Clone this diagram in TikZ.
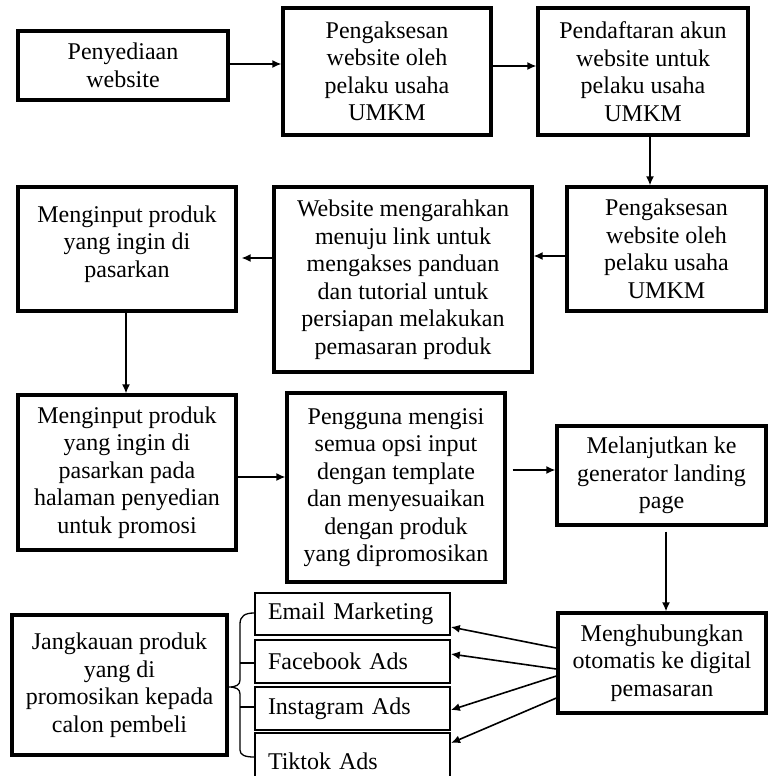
\documentclass[tikz,border=0pt]{standalone}
\usepackage{fontspec}
\setmainfont{Liberation Serif}
\usetikzlibrary{arrows.meta}
\tikzset{
  box/.style={draw, line width=3.2pt, align=center, inner sep=2pt,
    font=\fontsize{24}{27.5}\selectfont},
  smallbox/.style={draw, line width=1.7pt, align=left, inner xsep=13pt, inner ysep=2pt,
    text width=169pt, minimum width=195pt, font=\fontsize{24}{27.5}\selectfont},
  arr/.style={-{Latex[length=9pt,width=8pt]}, line width=1.6pt},
  bracel/.style={line width=1.3pt}
}
\begin{document}
\begin{tikzpicture}[x=1pt,y=-1pt]
\useasboundingbox (0,0) rectangle (768,776);
\clip (0,0) rectangle (768,776);
% row 1
\node[box, minimum width=210pt, minimum height=69pt] (B1) at (123,65.5) {Penyediaan\\website};
\node[box, minimum width=208pt, minimum height=127pt] (B2) at (387,71.5) {Pengaksesan\\website oleh\\pelaku usaha\\UMKM};
\node[box, minimum width=210pt, minimum height=127pt] (B3) at (643,71.5) {Pendaftaran akun\\website untuk\\pelaku usaha\\UMKM};
% row 2
\node[box, minimum width=199pt, minimum height=124pt] (B4) at (666.5,249) {Pengaksesan\\website oleh\\pelaku usaha\\UMKM};
\node[box, minimum width=258pt, minimum height=185pt] (B5) at (403,279.5) {Website mengarahkan\\menuju link untuk\\mengakses panduan\\dan tutorial untuk\\persiapan melakukan\\pemasaran produk};
\node[box, minimum width=218pt, minimum height=124pt] (B6) at (127,249) {Menginput produk\\yang ingin di\\pasarkan\\[-12pt]\mbox{}};
% row 3
\node[box, minimum width=218pt, minimum height=155pt] (B7) at (127,472.5) {Menginput produk\\yang ingin di\\pasarkan pada\\halaman penyedian\\untuk promosi};
\node[box, minimum width=218pt, minimum height=189pt] (B8) at (396,487.5) {Pengguna mengisi\\semua opsi input\\dengan template\\dan menyesuaikan\\dengan produk\\yang dipromosikan};
\node[box, minimum width=209pt, minimum height=99pt] (B9) at (661.5,475.5) {Melanjutkan ke\\generator landing\\page};
% row 4
\node[box, minimum width=208pt, minimum height=100pt] (B10) at (662,663) {Menghubungkan\\otomatis ke digital\\pemasaran};
\node[box, minimum width=215pt, minimum height=140pt] (B11) at (119.5,685) {Jangkauan produk\\yang di\\promosikan kepada\\calon pembeli};
\node[smallbox, minimum height=42pt] (E) at (352.5,614) {Email Marketing};
\node[smallbox, minimum height=43pt] (F) at (352.5,661.5) {Facebook Ads};
\node[smallbox, minimum height=43pt] (I) at (352.5,708.5) {Instagram Ads};
\node[smallbox, minimum height=57pt, line width=2.2pt] (T) at (352.5,761.5) {Tiktok Ads};
% connectors
\draw[arr] (B1.east |- 0,64) -- (B2.west |- 0,64);
\draw[arr] (B2.east |- 0,66) -- (B3.west |- 0,66);
\draw[arr] (B3.south -| 650,0) -- (B4.north -| 650,0);
\draw[arr] (B4.west |- 0,256) -- (B5.east |- 0,256);
\draw[arr, shorten >=4pt] (B5.west |- 0,258) -- (B6.east |- 0,258);
\draw[arr] (B6.south -| 126,0) -- (B7.north -| 126,0);
\draw[arr] (B7.east |- 0,477) -- (B8.west |- 0,477);
\draw[arr, shorten <=6pt] (B8.east |- 0,470) -- (B9.west |- 0,470);
\draw[arr, shorten <=5pt] (B9.south -| 666,0) -- (B10.north -| 666,0);
\draw[arr] (B10.west |- 0,648) -- (E.east |- 0,627);
\draw[arr] (B10.west |- 0,669) -- (F.east |- 0,654);
\draw[arr] (B10.west |- 0,676) -- (I.east |- 0,710);
\draw[arr] (B10.west |- 0,698) -- (T.east |- 0,743);
% brace
\draw[bracel] (E.west |- 0,613) .. controls (245,613) and (240,616) .. (240,624)
  -- (240,680) .. controls (240,685) and (236,687) .. (B11.east |- 0,687)
  .. controls (236,687) and (240,689) .. (240,694)
  -- (240,750) .. controls (240,755) and (245,757) .. (T.west |- 0,757);
\draw[bracel] (240,663) -- (F.west |- 0,663);
\draw[bracel] (240,707) -- (I.west |- 0,707);
\end{tikzpicture}
\end{document}
